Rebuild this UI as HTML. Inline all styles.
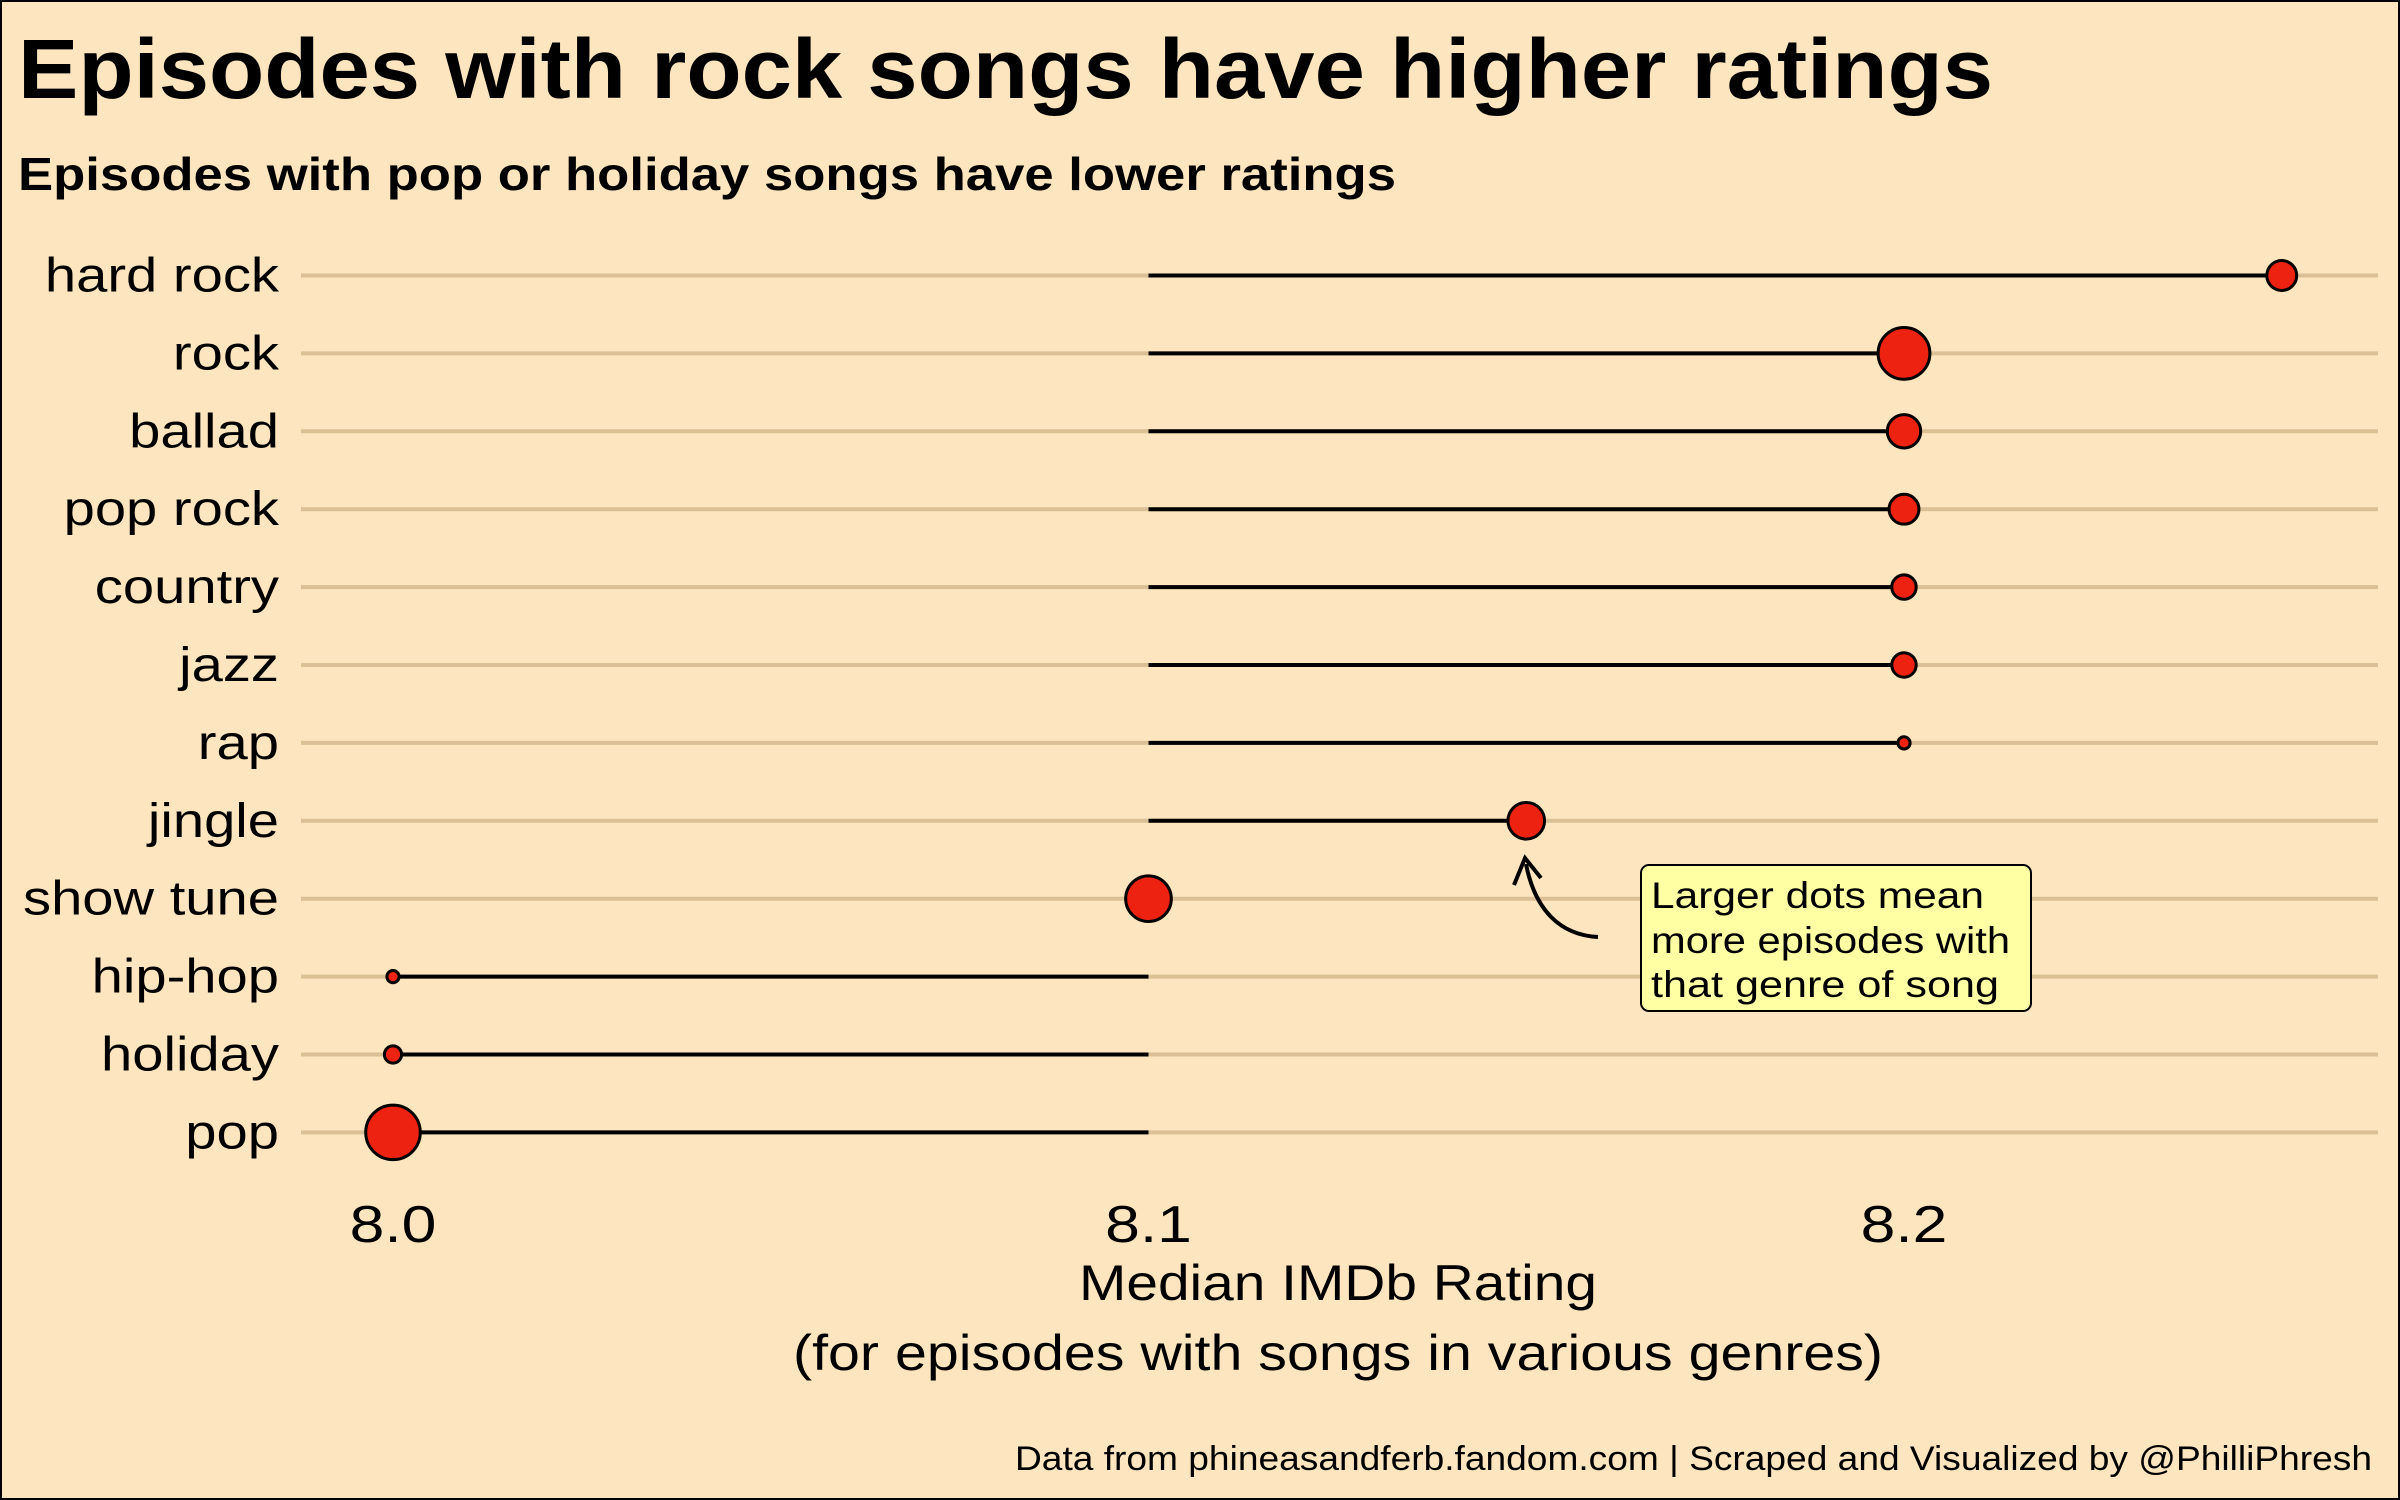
<!DOCTYPE html>
<html><head><meta charset="utf-8"><style>
html,body{margin:0;padding:0;background:#fde6bf;}
svg{display:block;}
text{font-family:"Liberation Sans",sans-serif;}
</style></head><body>
<svg id="chart" width="2400" height="1500" viewBox="0 0 2400 1500">
<rect x="1" y="1" width="2398" height="1498" fill="#fde6bf" stroke="#000" stroke-width="2"/>
<text x="18" y="98" font-size="84" font-weight="bold" textLength="1975" lengthAdjust="spacingAndGlyphs">Episodes with rock songs have higher ratings</text>
<text x="18" y="190" font-size="46" font-weight="bold" textLength="1378" lengthAdjust="spacingAndGlyphs">Episodes with pop or holiday songs have lower ratings</text>
<g id="grid"></g><g id="stems"></g><g id="dots"></g><g id="ylabels"></g><g id="xticks"></g>
<text x="1079" y="1300" font-size="50" textLength="518" lengthAdjust="spacingAndGlyphs">Median IMDb Rating</text>
<text x="793" y="1370" font-size="50" textLength="1090" lengthAdjust="spacingAndGlyphs">(for episodes with songs in various genres)</text>
<text x="1015" y="1470" font-size="34" textLength="1357" lengthAdjust="spacingAndGlyphs">Data from phineasandferb.fandom.com  |  Scraped and Visualized by @PhilliPhresh</text>
<path d="M1598,937 C1560,935 1535,910 1526,864" fill="none" stroke="#000" stroke-width="4"/>
<path d="M1514,885 L1525,858 L1541,878" fill="none" stroke="#000" stroke-width="4"/>
<rect x="1641" y="865" width="390" height="146" rx="8" fill="#ffffa3" stroke="#000" stroke-width="2"/>
<text font-size="37"><tspan x="1651" y="908" textLength="333" lengthAdjust="spacingAndGlyphs">Larger dots mean</tspan><tspan x="1651" y="953" textLength="359" lengthAdjust="spacingAndGlyphs">more episodes with</tspan><tspan x="1651" y="997" textLength="348" lengthAdjust="spacingAndGlyphs">that genre of song</tspan></text>
</svg>
<script>
const categories = ["hard rock","rock","ballad","pop rock","country","jazz","rap","jingle","show tune","hip-hop","holiday","pop"];
const ratings = [8.25,8.2,8.2,8.2,8.2,8.2,8.2,8.15,8.1,8.0,8.0,8.0];
const episodeCounts = [6,18,7.5,6,4,4,1,9,14,1,2,20];
const xTicks = [8.0,8.1,8.2];
const xTickLabels = ["8.0","8.1","8.2"];
const baseline = 8.1;

const NS="http://www.w3.org/2000/svg";
const xScale = v => 393 + (v-8.0)*7555;
const yScale = i => 275.5 + i*77.9;
const rScale = n => 6.1*Math.sqrt(n);
function mk(tag, attrs, parent){const e=document.createElementNS(NS,tag);for(const k in attrs)e.setAttribute(k,attrs[k]);document.getElementById(parent).appendChild(e);return e;}

categories.forEach((c,i)=>{
  const y=yScale(i);
  const g=mk('line',{x1:301,x2:2378,y1:y,y2:y,stroke:'#dbbf95','stroke-width':4},'grid');
  
  
  const s=mk('line',{x1:xScale(baseline),x2:xScale(ratings[i]),y1:y,y2:y,stroke:'#000','stroke-width':4},'stems');
  
  
  const d=mk('circle',{cx:xScale(ratings[i]),cy:y,r:rScale(episodeCounts[i]),fill:'#ee2211',stroke:'#000','stroke-width':3},'dots');
  
  
  const t=mk('text',{x:279,y:y+16,'font-size':48,'text-anchor':'end'},'ylabels');
  t.textContent=c;
  
  
  const w=t.getComputedTextLength();
  t.setAttribute('textLength', (w*1.17).toFixed(1));
  t.setAttribute('lengthAdjust','spacingAndGlyphs');
});
xTicks.forEach((v,i)=>{
  const t=mk('text',{x:xScale(v),y:1242,'font-size':52,'text-anchor':'middle'},'xticks');
  t.textContent=xTickLabels[i];
  
  
  const w=t.getComputedTextLength();
  t.setAttribute('textLength', (w*1.2).toFixed(1));
  t.setAttribute('lengthAdjust','spacingAndGlyphs');
});
</script>
</body></html>
